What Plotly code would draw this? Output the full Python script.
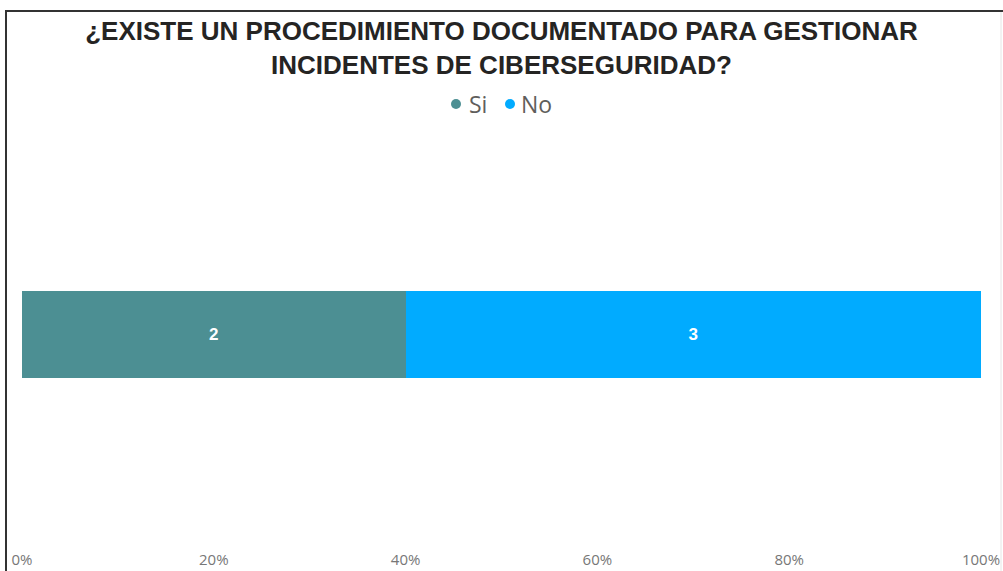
import plotly.graph_objects as go

# Survey answers: one stacked bar, normalised to 100 %
categories = ["Si", "No"]
counts = [2, 3]
colors = ["#4C8F93", "#01ABFF"]
row_label = [""]
tick_values = [0, 20, 40, 60, 80, 100]
tick_labels = ["0%", "20%", "40%", "60%", "80%", "100%"]

W, H = 1003, 571
ML, MR, MT, MB = 22, 22, 125, 27
PW, PH = W - ML - MR, H - MT - MB


def px_x(px):
    return (px - ML) / PW


def px_y(py):
    return (H - MB - py) / PH


fig = go.Figure()

for name, value, color in zip(categories, counts, colors):
    fig.add_trace(go.Bar(
        y=row_label,
        x=[value],
        name=name,
        orientation="h",
        marker=dict(color=color, line=dict(width=0)),
        text=[value],
        texttemplate="%{text}",
        textposition="inside",
        insidetextanchor="middle",
        textfont=dict(color="white", size=17, family="Liberation Sans, Arial, sans-serif", weight="bold"),
        showlegend=False,
        hoverinfo="skip",
    ))

# legend row drawn by hand: dot + name for each category
legend_dot_x = [456, 510]
legend_text_x = [467, 519]
legend_y = 104
shapes = []
annotations = []
for name, color, dx, tx in zip(categories, colors, legend_dot_x, legend_text_x):
    shapes.append(dict(
        type="circle", xref="paper", yref="paper",
        xsizemode="pixel", ysizemode="pixel",
        xanchor=px_x(dx), yanchor=px_y(legend_y),
        x0=-5, x1=5, y0=-5, y1=5,
        fillcolor=color, line=dict(width=0),
    ))
    annotations.append(dict(
        text=name, xref="paper", yref="paper",
        x=px_x(tx), y=px_y(legend_y), xanchor="left", yanchor="middle",
        showarrow=False,
        font=dict(family="Open Sans, sans-serif", size=23, color="#605E5C"),
    ))

# visual frame: dark left/top edges, faint right edge
shapes += [
    dict(type="line", xref="paper", yref="paper",
         x0=px_x(6), x1=px_x(6), y0=px_y(10), y1=px_y(H + 5),
         line=dict(color="#333333", width=2)),
    dict(type="line", xref="paper", yref="paper",
         x0=px_x(5), x1=px_x(W + 5), y0=px_y(11), y1=px_y(11),
         line=dict(color="#333333", width=2)),
    dict(type="line", xref="paper", yref="paper",
         x0=px_x(1001), x1=px_x(1001), y0=px_y(12), y1=px_y(H + 5),
         line=dict(color="#E6E6E6", width=1)),
]

fig.update_layout(
    width=W,
    height=H,
    paper_bgcolor="white",
    plot_bgcolor="white",
    barmode="stack",
    barnorm="percent",
    bargap=0.792,
    showlegend=False,
    margin=dict(l=ML, r=MR, t=MT, b=MB, autoexpand=False),
    title=dict(
        text="¿EXISTE UN PROCEDIMIENTO DOCUMENTADO PARA GESTIONAR<br>INCIDENTES DE CIBERSEGURIDAD?",
        x=0.5, xanchor="center",
        yref="container", y=1 - 40 / H, yanchor="middle",
        font=dict(family="Liberation Sans, Arial, sans-serif", size=26, color="#252423", weight="bold"),
    ),
    annotations=annotations,
    shapes=shapes,
    xaxis=dict(
        range=[0, 100],
        tickvals=tick_values,
        ticktext=tick_labels,
        showgrid=False,
        zeroline=False,
        showline=False,
        ticks="",
        ticklabelstandoff=5,
        tickfont=dict(family="Open Sans, sans-serif", size=15, color="#777777"),
        fixedrange=True,
    ),
    yaxis=dict(
        showticklabels=False,
        showgrid=False,
        zeroline=False,
        showline=False,
        fixedrange=True,
    ),
)

fig.write_html("out.html")
